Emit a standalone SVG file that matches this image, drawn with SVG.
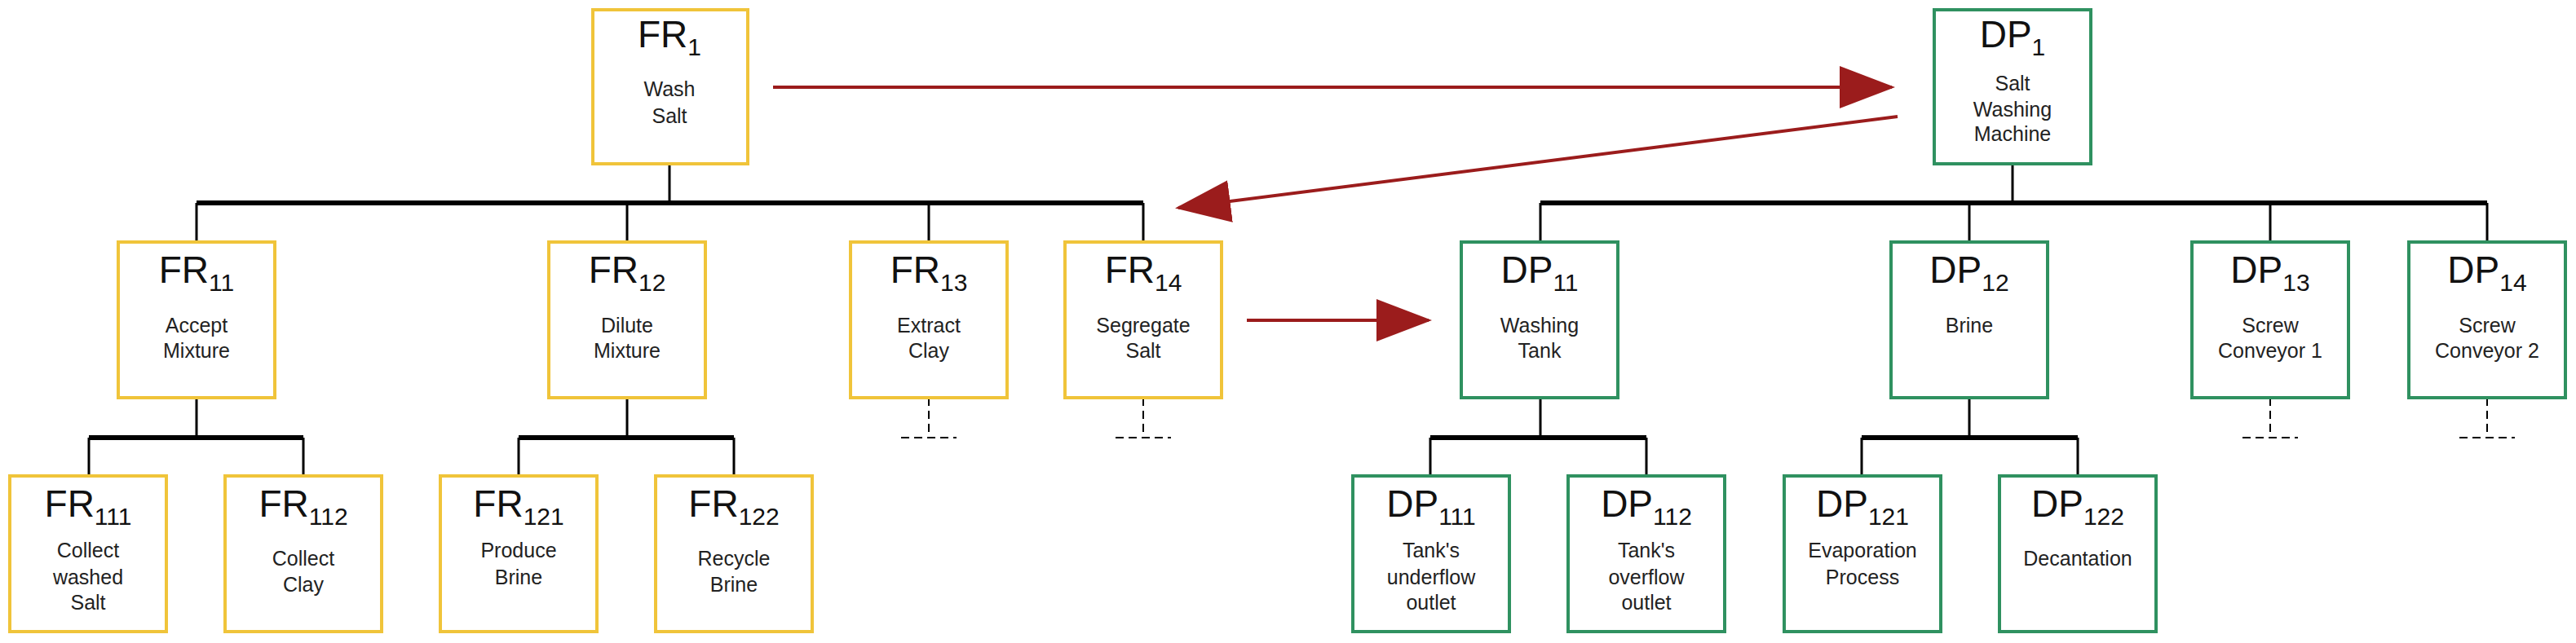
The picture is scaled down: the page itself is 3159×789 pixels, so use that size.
<svg xmlns="http://www.w3.org/2000/svg" width="3159" height="789" viewBox="0 0 3159 789">
<style>
.fr{fill:#fff;stroke:#f0c43a;stroke-width:4}
.dp{fill:#fff;stroke:#2f9160;stroke-width:4}
.t{font-family:"Liberation Sans",Arial,sans-serif;font-size:46px;fill:#111;text-anchor:middle}
.s{font-size:30px}
.d{font-family:"Liberation Sans",Arial,sans-serif;font-size:25px;fill:#222;text-anchor:middle}
.bus{stroke:#000;stroke-width:6;fill:none}
.st{stroke:#000;stroke-width:3;fill:none}
.stub{stroke:#000;stroke-width:2;stroke-dasharray:10 6;fill:none}
.ar{stroke:#9b1c1c;stroke-width:4;fill:none;marker-end:url(#ah)}
</style>
<defs>
<marker id="ah" markerWidth="17" markerHeight="13" refX="16" refY="6.5" orient="auto" markerUnits="strokeWidth"><path d="M0,0 L17,6.5 L0,13 z" fill="#9b1c1c"/></marker>
</defs>
<g id="connectors">
<path class="st" d="M821 201V249M241 249V297M769 249V297M1139 249V297M1402 249V297"/>
<path class="bus" d="M241 249H1402"/>
<path class="st" d="M241 488V537M109 537V584M372 537V584M769 488V537M636 537V584M900 537V584"/>
<path class="bus" d="M109 537H372M636 537H900"/>
<path class="stub" d="M1139 488V533M1105 537H1173M1402 488V533M1368 537H1436"/>
<path class="st" d="M2468 201V249M1889 249V297M2415 249V297M2784 249V297M3050 249V297"/>
<path class="bus" d="M1889 249H3050"/>
<path class="st" d="M1889 488V537M1754 537V584M2019 537V584M2415 488V537M2283 537V584M2548 537V584"/>
<path class="bus" d="M1754 537H2019M2283 537H2548"/>
<path class="stub" d="M2784 488V533M2750 537H2818M3050 488V533M3016 537H3084"/>
<path class="ar" d="M948 107H2320"/>
<path class="ar" d="M2327 143L1445 255"/>
<path class="ar" d="M1529 393H1752"/>
</g>
<g id="FR1"><rect class="fr" x="727" y="12" width="190" height="189"/><text class="t" x="821" y="58">FR<tspan class="s" dy="10">1</tspan></text><text class="d" x="821" y="118">Wash</text><text class="d" x="821" y="151">Salt</text></g>
<g id="FR11"><rect class="fr" x="145" y="297" width="192" height="191"/><text class="t" x="241" y="347">FR<tspan class="s" dy="10">11</tspan></text><text class="d" x="241" y="408">Accept</text><text class="d" x="241" y="439">Mixture</text></g>
<g id="FR12"><rect class="fr" x="673" y="297" width="192" height="191"/><text class="t" x="769" y="347">FR<tspan class="s" dy="10">12</tspan></text><text class="d" x="769" y="408">Dilute</text><text class="d" x="769" y="439">Mixture</text></g>
<g id="FR13"><rect class="fr" x="1043" y="297" width="192" height="191"/><text class="t" x="1139" y="347">FR<tspan class="s" dy="10">13</tspan></text><text class="d" x="1139" y="408">Extract</text><text class="d" x="1139" y="439">Clay</text></g>
<g id="FR14"><rect class="fr" x="1306" y="297" width="192" height="191"/><text class="t" x="1402" y="347">FR<tspan class="s" dy="10">14</tspan></text><text class="d" x="1402" y="408">Segregate</text><text class="d" x="1402" y="439">Salt</text></g>
<g id="FR111"><rect class="fr" x="12" y="584" width="192" height="191"/><text class="t" x="108" y="634">FR<tspan class="s" dy="10">111</tspan></text><text class="d" x="108" y="684">Collect</text><text class="d" x="108" y="717">washed</text><text class="d" x="108" y="748">Salt</text></g>
<g id="FR112"><rect class="fr" x="276" y="584" width="192" height="191"/><text class="t" x="372" y="634">FR<tspan class="s" dy="10">112</tspan></text><text class="d" x="372" y="694">Collect</text><text class="d" x="372" y="726">Clay</text></g>
<g id="FR121"><rect class="fr" x="540" y="584" width="192" height="191"/><text class="t" x="636" y="634">FR<tspan class="s" dy="10">121</tspan></text><text class="d" x="636" y="684">Produce</text><text class="d" x="636" y="717">Brine</text></g>
<g id="FR122"><rect class="fr" x="804" y="584" width="192" height="191"/><text class="t" x="900" y="634">FR<tspan class="s" dy="10">122</tspan></text><text class="d" x="900" y="694">Recycle</text><text class="d" x="900" y="726">Brine</text></g>
<g id="DP1"><rect class="dp" x="2372" y="12" width="192" height="189"/><text class="t" x="2468" y="58">DP<tspan class="s" dy="10">1</tspan></text><text class="d" x="2468" y="111">Salt</text><text class="d" x="2468" y="143">Washing</text><text class="d" x="2468" y="173">Machine</text></g>
<g id="DP11"><rect class="dp" x="1792" y="297" width="192" height="191"/><text class="t" x="1888" y="347">DP<tspan class="s" dy="10">11</tspan></text><text class="d" x="1888" y="408">Washing</text><text class="d" x="1888" y="439">Tank</text></g>
<g id="DP12"><rect class="dp" x="2319" y="297" width="192" height="191"/><text class="t" x="2415" y="347">DP<tspan class="s" dy="10">12</tspan></text><text class="d" x="2415" y="408">Brine</text></g>
<g id="DP13"><rect class="dp" x="2688" y="297" width="192" height="191"/><text class="t" x="2784" y="347">DP<tspan class="s" dy="10">13</tspan></text><text class="d" x="2784" y="408">Screw</text><text class="d" x="2784" y="439">Conveyor 1</text></g>
<g id="DP14"><rect class="dp" x="2954" y="297" width="192" height="191"/><text class="t" x="3050" y="347">DP<tspan class="s" dy="10">14</tspan></text><text class="d" x="3050" y="408">Screw</text><text class="d" x="3050" y="439">Conveyor 2</text></g>
<g id="DP111"><rect class="dp" x="1659" y="584" width="192" height="191"/><text class="t" x="1755" y="634">DP<tspan class="s" dy="10">111</tspan></text><text class="d" x="1755" y="684">Tank's</text><text class="d" x="1755" y="717">underflow</text><text class="d" x="1755" y="748">outlet</text></g>
<g id="DP112"><rect class="dp" x="1923" y="584" width="192" height="191"/><text class="t" x="2019" y="634">DP<tspan class="s" dy="10">112</tspan></text><text class="d" x="2019" y="684">Tank's</text><text class="d" x="2019" y="717">overflow</text><text class="d" x="2019" y="748">outlet</text></g>
<g id="DP121"><rect class="dp" x="2188" y="584" width="192" height="191"/><text class="t" x="2284" y="634">DP<tspan class="s" dy="10">121</tspan></text><text class="d" x="2284" y="684">Evaporation</text><text class="d" x="2284" y="717">Process</text></g>
<g id="DP122"><rect class="dp" x="2452" y="584" width="192" height="191"/><text class="t" x="2548" y="634">DP<tspan class="s" dy="10">122</tspan></text><text class="d" x="2548" y="694">Decantation</text></g>
</svg>
